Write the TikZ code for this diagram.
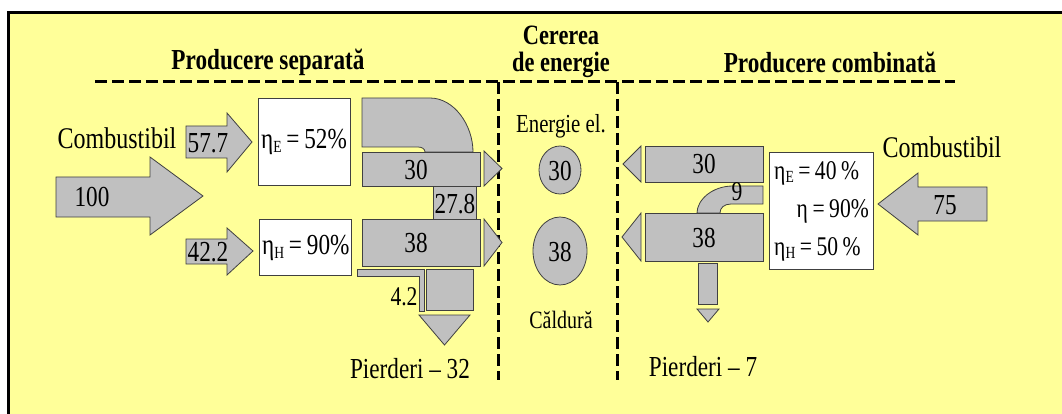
\documentclass[tikz,border=0pt]{standalone}
\usepackage{fontspec}
\setmainfont[FakeStretch=0.8]{Liberation Serif}
\usepackage{tikz}
\usetikzlibrary{calc,positioning}

\definecolor{bgyellow}{HTML}{FFFF99}
\definecolor{flowgray}{HTML}{C0C0C0}
\newcommand{\effsub}[1]{\raisebox{-0.3ex}{\fontsize{17}{17}\selectfont #1}}

\begin{document}
\begin{tikzpicture}[
    x=1pt, y=-1pt,
    flow/.style={fill=flowgray, draw=black!75, line width=0.8pt},
    effbox/.style={fill=white, draw=black!75, line width=0.8pt},
    sepline/.style={line width=3pt, dash pattern=on 12pt off 5pt},
    lbl/.style={inner sep=0pt, font=\fontsize{29}{29}\selectfont},
    small lbl/.style={inner sep=0pt, font=\fontsize{26}{26}\selectfont},
    title lbl/.style={inner sep=0pt, align=center, font=\fontsize{29}{26}\selectfont\bfseries},
]
\useasboundingbox (0,0) rectangle (1062,414);
\fill[bgyellow] (8,13) rectangle (1062,414);
\draw[line width=3pt] (1062,13) -- (8,13) -- (8,414);

% Titluri
\node[title lbl] (tsep) at (268,62) {Producere separată};
\node[title lbl, font=\fontsize{28}{26}\selectfont\bfseries] (tcer1) at (561,35) {Cererea};
\node[title lbl, font=\fontsize{28}{26}\selectfont\bfseries] (tcer2) at (561,65) {de energie};
\node[title lbl] (tcomb) at (830,62) {Producere combinată};
\draw[sepline] (95,82) -- (955,82);
\draw[sepline] (498,82) -- (498,380);
\draw[sepline] (617,82) -- (617,380);

% Producere separata
\node[lbl, font=\fontsize{30}{30}\selectfont] (combL) at (117,138) {Combustibil};
\draw[flow] (56,177) -- (150,177) -- (150,157) -- (203,196) -- (150,235) -- (150,217) -- (56,217) -- cycle;
\node[lbl] (in100) at (92,197) {100};
\draw[flow] (186,126) -- (227,126) -- (227,113) -- (252,142) -- (227,172) -- (227,158) -- (186,158) -- cycle;
\node[lbl] (in57) at (208,143) {57.7};
\draw[flow] (186,239) -- (227,239) -- (227,228) -- (253,251) -- (227,275) -- (227,264) -- (186,264) -- cycle;
\node[lbl] (in42) at (208,252) {42.2};

\draw[effbox] (258,98) rectangle (350,185);
\node[lbl, anchor=west] (etaE) at (261,142) {η\effsub{E}\,=\,52\%};
\draw[effbox] (259,219) rectangle (351,275);
\node[lbl, anchor=west] (etaH) at (262,248) {η\effsub{H}\,=\,90\%};

\draw[flow] (433,180) rectangle (476,222);
\draw[flow] (362,147) -- (362,98) -- (430,98) .. controls (454,98) and (473,125) .. (473,152)
    -- (425,152) .. controls (425,149) and (422,147) .. (418,147) -- cycle;
\draw[flow] (362,152) rectangle (480,186);
\node[lbl] (outE) at (416,170) {30};
\node[lbl] (loss278) at (455,204) {27.8};
\draw[flow] (362,219) rectangle (480,266);
\node[lbl] (outH) at (416,243) {38};
\draw[flow] (484,151) -- (502,168.5) -- (484,186) -- cycle;
\draw[flow] (484,219) -- (502,242.5) -- (484,266) -- cycle;

\draw[flow] (357,269) -- (424,269) -- (424,311) -- (419,311) -- (419,276) -- (357,276) -- cycle;
\draw[flow] (426,269) rectangle (473,310);
\draw[flow] (419,315) -- (470,315) -- (444.5,345) -- cycle;
\node[lbl, font=\fontsize{27}{27}\selectfont] (loss42) at (404,297) {4.2};
\node[lbl] (pierdL) at (410,369) {Pierderi – 32};

% Cererea de energie
\node[small lbl] (enel) at (561,126) {Energie el.};
\draw[flow] (560,170) ellipse [x radius=21, y radius=24];
\node[lbl] (dE) at (560,171) {30};
\draw[flow] (560,251) ellipse [x radius=27, y radius=34];
\node[lbl] (dH) at (560,252) {38};
\node[small lbl, font=\fontsize{25}{25}\selectfont] (cald) at (561,320) {Căldură};

% Producere combinata
\draw[flow] (641,146) -- (623,164) -- (641,182) -- cycle;
\draw[flow] (645,146) rectangle (763,182);
\node[lbl] (cE) at (704,164) {30};
\draw[flow] (763,186) -- (733,186) .. controls (712,186) and (697,200) .. (697,213)
    -- (720,213) .. controls (720,208) and (724,204) .. (731,204) -- (763,204) -- cycle;
\node[lbl, font=\fontsize{27}{27}\selectfont] (c9) at (737,192) {9};
\draw[flow] (641,213) -- (622,237) -- (641,261) -- cycle;
\draw[flow] (645,213) rectangle (763,261);
\node[lbl] (cH) at (704,238) {38};
\draw[flow] (698,263) rectangle (717,304);
\draw[flow] (697,309) -- (719,309) -- (708,322) -- cycle;
\node[lbl] (pierdR) at (703,367) {Pierderi – 7};

\draw[effbox] (769,152) rectangle (873,269);
\node[lbl, anchor=west, font=\fontsize{27}{27}\selectfont] (cetaE) at (774,173) {η\effsub{E}\,=\,40\,\%};
\node[lbl, anchor=east, font=\fontsize{27}{27}\selectfont] (ceta) at (869,211) {η\,=\,90\%};
\node[lbl, anchor=west, font=\fontsize{27}{27}\selectfont] (cetaH) at (774,249) {η\effsub{H}\,=\,50\,\%};

\node[lbl, font=\fontsize{30}{30}\selectfont] (combR) at (942,147) {Combustibil};
\draw[flow] (987,187) -- (918,187) -- (918,173) -- (878,204) -- (918,235) -- (918,221) -- (987,221) -- cycle;
\node[lbl] (in75) at (945,205) {75};
\end{tikzpicture}
\end{document}
